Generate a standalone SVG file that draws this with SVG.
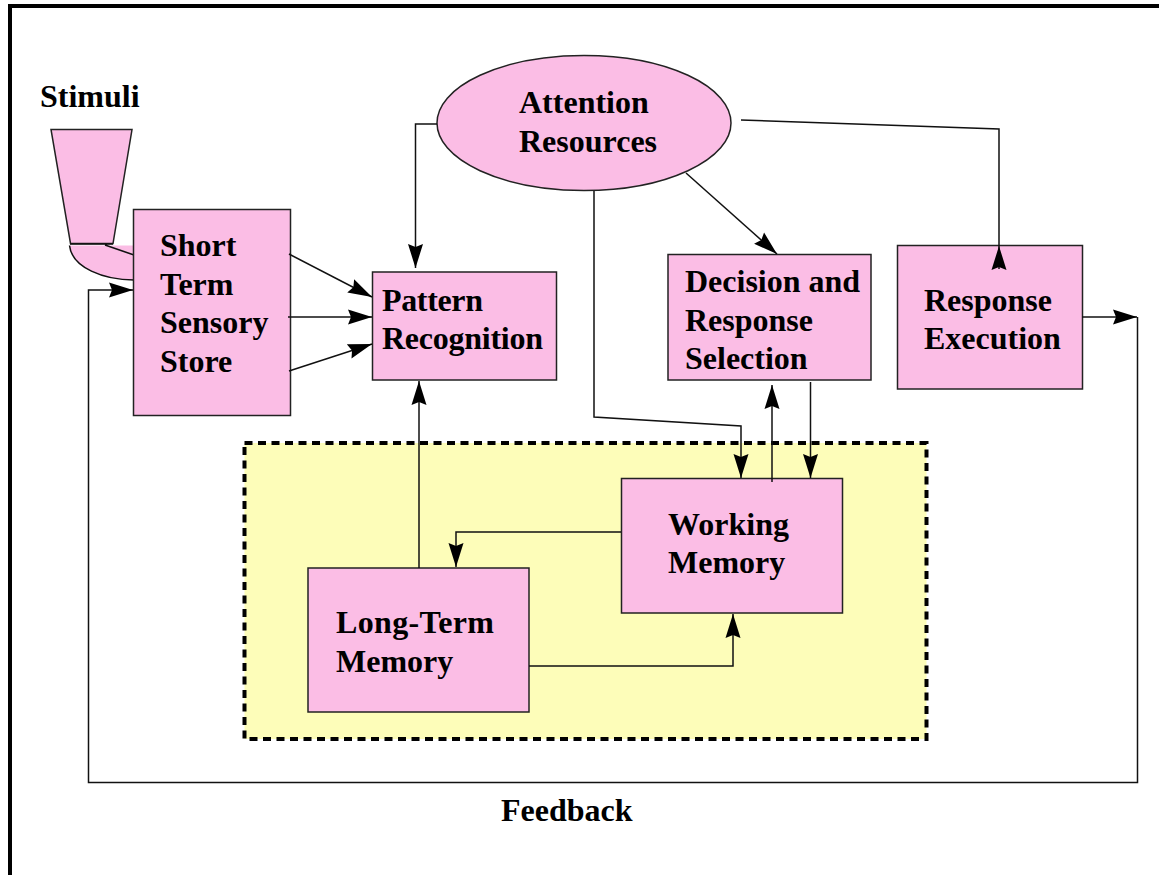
<svg xmlns="http://www.w3.org/2000/svg" width="1159" height="875" viewBox="0 0 1159 875">
<defs>
<marker id="ah" markerUnits="userSpaceOnUse" markerWidth="25" markerHeight="16" refX="24" refY="7.500" orient="auto" viewBox="0 0 25 15">
<path d="M0 0L24 7.500L0 15L3 7.500Z" fill="#000"/>
</marker>
</defs>
<style>
.n{fill:#fbbde5;stroke:#222;stroke-width:1.500}
.c{fill:none;stroke:#111;stroke-width:1.500;marker-end:url(#ah)}
.p{fill:none;stroke:#111;stroke-width:1.500}
text{font-family:"Liberation Serif","Times New Roman",serif;font-weight:bold;font-size:32px;fill:#000}
</style>
<rect width="1159" height="875" fill="#fff"/>
<path d="M10 875V6H1159" fill="none" stroke="#000" stroke-width="4"/>
<g id="memory-region"><rect x="244.500" y="443" width="682" height="296" fill="#fdfdb9" stroke="#000" stroke-width="4" stroke-dasharray="8 5.500"/></g>
<g id="stimuli-funnel">
<path class="n" d="M51 129.500H132L113 243.500H70.500Z"/>
<path class="n" d="M69.500 245.500C72 268 104 280 134 280V245.500H105Z" style="stroke:none"/>
<path class="p" d="M69.500 245.500C72 268 104 280 134 280M105 245L134 255M70 244H113"/>
</g>
<g id="short-term"><rect class="n" x="133.500" y="209.500" width="157" height="206"/>
<text x="160" y="256">Short</text><text x="160" y="295">Term</text><text x="160" y="333">Sensory</text><text x="160" y="372">Store</text></g>
<g id="pattern"><rect class="n" x="372.500" y="272" width="184" height="108"/>
<text x="382" y="311" textLength="101">Pattern</text><text x="382" y="349" textLength="161">Recognition</text></g>
<g id="attention"><ellipse cx="584" cy="123" rx="147" ry="67.500" class="n"/>
<text x="519" y="113">Attention</text><text x="519" y="152">Resources</text></g>
<g id="decision"><rect class="n" x="668" y="254.500" width="203" height="125.500"/>
<text x="685" y="292">Decision and</text><text x="685" y="331">Response</text><text x="685" y="369">Selection</text></g>
<g id="response"><rect class="n" x="897.500" y="245.500" width="185" height="143.500"/>
<text x="924" y="311">Response</text><text x="924" y="349">Execution</text></g>
<g id="working"><rect class="n" x="621.500" y="478.500" width="221" height="134.500"/>
<text x="668" y="535">Working</text><text x="668" y="573">Memory</text></g>
<g id="long-term"><rect class="n" x="308" y="568" width="221" height="144"/>
<text x="336" y="633" textLength="158">Long-Term</text><text x="336" y="672">Memory</text></g>
<g id="connectors">
<path class="c" d="M289 254L372 297"/>
<path class="c" d="M288 317H372"/>
<path class="c" d="M289 371L372 344"/>
<path class="c" d="M437 124H415.500V268"/>
<path class="c" d="M594 191V417L741 426V478"/>
<path class="c" d="M686 173L777 254"/>
<path class="p" d="M741 120L999 129V246"/>
<path class="c" d="M999 269V246"/>
<path class="c" d="M1082 317H1137"/>
<path class="c" d="M1137.500 317V782.500H88.500V290H133"/>
<path class="c" d="M419 568V381"/>
<path class="c" d="M772 482V385"/>
<path class="c" d="M810.500 382V478"/>
<path class="c" d="M621 532H456V567"/>
<path class="c" d="M529 666H733V614"/>
</g>
<text x="40" y="107">Stimuli</text>
<text x="501" y="821">Feedback</text>
</svg>
